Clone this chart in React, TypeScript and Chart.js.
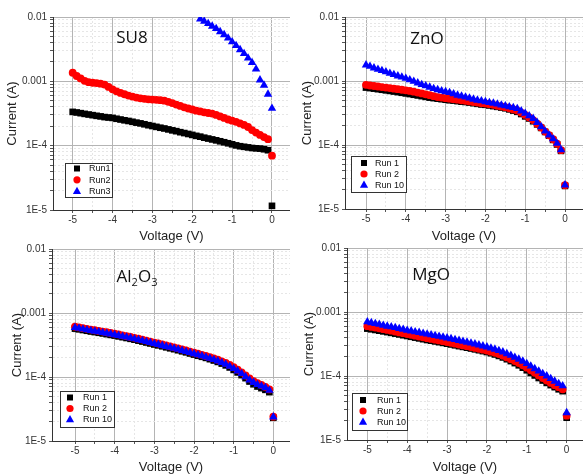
import React, { useEffect, useRef } from "react";
import { Chart, registerables } from "chart.js";

Chart.register(...registerables);

// ---------------- DATA ----------------
const voltage = [
  -5.0, -4.9, -4.8, -4.7, -4.6, -4.5, -4.4, -4.3, -4.2, -4.1,
  -4.0, -3.9, -3.8, -3.7, -3.6, -3.5, -3.4, -3.3, -3.2, -3.1,
  -3.0, -2.9, -2.8, -2.7, -2.6, -2.5, -2.4, -2.3, -2.2, -2.1,
  -2.0, -1.9, -1.8, -1.7, -1.6, -1.5, -1.4, -1.3, -1.2, -1.1,
  -1.0, -0.9, -0.8, -0.7, -0.6, -0.5, -0.4, -0.3, -0.2, -0.1, 0.0,
];
const su8Run3Voltage = [
  -1.8, -1.7, -1.6, -1.5, -1.4, -1.3, -1.2, -1.1, -1.0, -0.9,
  -0.8, -0.7, -0.6, -0.5, -0.4, -0.3, -0.2, -0.1, 0.0,
];

// currents, in units of 1E-4 A
const su8Run1 = [
  3.35, 3.28, 3.2, 3.12, 3.05, 2.98, 2.91, 2.85, 2.78, 2.74,
  2.7, 2.62, 2.55, 2.48, 2.42, 2.35, 2.28, 2.22, 2.15, 2.08,
  2.02, 1.96, 1.9, 1.85, 1.79, 1.73, 1.68, 1.62, 1.57, 1.52,
  1.47, 1.42, 1.38, 1.33, 1.29, 1.25, 1.21, 1.17, 1.13, 1.09,
  1.05, 1.01, 0.98, 0.96, 0.94, 0.92, 0.91, 0.9, 0.88, 0.85, 0.116,
];
const su8Run2 = [
  13.6, 12.1, 11.1, 10.2, 9.7, 9.5, 9.4, 9.2, 8.9, 8.2,
  7.5, 7.0, 6.6, 6.3, 6.0, 5.8, 5.6, 5.45, 5.35, 5.25,
  5.2, 5.15, 5.1, 5.0, 4.8, 4.6, 4.35, 4.15, 3.95, 3.78,
  3.65, 3.5, 3.4, 3.3, 3.22, 3.15, 3.0, 2.85, 2.7, 2.55,
  2.45, 2.35, 2.22, 2.1, 1.95, 1.75, 1.6, 1.47, 1.36, 1.26, 0.7,
];
const su8Run3 = [
  93, 86, 79, 72, 66, 59, 53, 47, 41, 36,
  31, 27, 23, 19.5, 15.5, 10.5, 8.7, 6.3, 3.8,
];

const znoRun1 = [
  7.9, 7.75, 7.6, 7.45, 7.3, 7.15, 7.0, 6.85, 6.7, 6.55,
  6.4, 6.25, 6.1, 5.95, 5.8, 5.65, 5.5, 5.4, 5.3, 5.2,
  5.1, 5.0, 4.95, 4.85, 4.75, 4.7, 4.6, 4.5, 4.4, 4.3,
  4.25, 4.15, 4.05, 3.95, 3.85, 3.75, 3.6, 3.45, 3.3, 3.05,
  2.8, 2.6, 2.35, 2.1, 1.85, 1.6, 1.4, 1.2, 1.02, 0.81, 0.23,
];
const znoRun2 = [
  8.7, 8.5, 8.35, 8.2, 8.05, 7.9, 7.75, 7.6, 7.45, 7.3,
  7.15, 7.0, 6.8, 6.6, 6.4, 6.2, 6.0, 5.8, 5.6, 5.5,
  5.4, 5.3, 5.2, 5.1, 5.0, 4.9, 4.8, 4.7, 4.6, 4.5,
  4.45, 4.35, 4.25, 4.1, 4.0, 3.9, 3.75, 3.6, 3.45, 3.2,
  2.95, 2.7, 2.45, 2.15, 1.88, 1.62, 1.42, 1.23, 1.05, 0.83, 0.235,
];
const znoRun10 = [
  17.8, 16.9, 16.0, 15.2, 14.5, 13.9, 13.2, 12.6, 12.0, 11.5,
  11.0, 10.4, 9.9, 9.3, 8.8, 8.4, 8.0, 7.6, 7.3, 7.0,
  6.8, 6.6, 6.3, 6.0, 5.8, 5.6, 5.4, 5.2, 5.0, 4.9,
  4.75, 4.6, 4.5, 4.35, 4.2, 4.1, 3.95, 3.85, 3.7, 3.4,
  3.13, 2.85, 2.6, 2.25, 1.93, 1.65, 1.43, 1.25, 1.06, 0.84, 0.237,
];

const al2o3Run1 = [
  5.7, 5.56, 5.42, 5.28, 5.14, 5.03, 4.91, 4.79, 4.67, 4.55,
  4.44, 4.31, 4.19, 4.07, 3.95, 3.83, 3.7, 3.58, 3.46, 3.34,
  3.22, 3.12, 3.02, 2.91, 2.81, 2.72, 2.62, 2.52, 2.43, 2.33,
  2.24, 2.15, 2.07, 1.99, 1.9, 1.81, 1.72, 1.62, 1.52, 1.41,
  1.29, 1.18, 1.07, 0.96, 0.85, 0.77, 0.71, 0.67, 0.63, 0.58, 0.23,
];
const al2o3Run2 = [
  6.1, 5.95, 5.8, 5.65, 5.5, 5.38, 5.25, 5.12, 5.0, 4.87,
  4.75, 4.62, 4.48, 4.35, 4.22, 4.1, 3.97, 3.84, 3.71, 3.58,
  3.45, 3.34, 3.23, 3.12, 3.01, 2.91, 2.81, 2.7, 2.6, 2.5,
  2.4, 2.31, 2.22, 2.13, 2.04, 1.95, 1.86, 1.76, 1.66, 1.54,
  1.42, 1.3, 1.18, 1.06, 0.95, 0.86, 0.8, 0.75, 0.7, 0.64, 0.24,
];
const al2o3Run10 = [
  5.9, 5.75, 5.6, 5.45, 5.3, 5.2, 5.07, 4.95, 4.82, 4.7,
  4.58, 4.45, 4.32, 4.2, 4.07, 3.95, 3.82, 3.7, 3.57, 3.45,
  3.32, 3.22, 3.11, 3.0, 2.9, 2.8, 2.7, 2.6, 2.5, 2.4,
  2.31, 2.22, 2.14, 2.05, 1.96, 1.87, 1.78, 1.68, 1.58, 1.47,
  1.35, 1.24, 1.13, 1.01, 0.9, 0.82, 0.76, 0.72, 0.68, 0.62, 0.237,
];

const mgoRun1 = [
  5.5, 5.37, 5.24, 5.11, 4.98, 4.85, 4.72, 4.59, 4.46, 4.34,
  4.22, 4.1, 3.98, 3.87, 3.76, 3.65, 3.56, 3.47, 3.38, 3.29,
  3.2, 3.11, 3.02, 2.93, 2.85, 2.77, 2.69, 2.61, 2.53, 2.45,
  2.37, 2.27, 2.17, 2.06, 1.95, 1.83, 1.71, 1.59, 1.47, 1.35,
  1.23, 1.12, 1.02, 0.93, 0.85, 0.78, 0.72, 0.67, 0.62, 0.58, 0.223,
];
const mgoRun2 = [
  6.0, 5.85, 5.7, 5.55, 5.4, 5.25, 5.1, 4.95, 4.8, 4.67,
  4.53, 4.4, 4.27, 4.14, 4.02, 3.9, 3.8, 3.7, 3.6, 3.5,
  3.4, 3.3, 3.2, 3.1, 3.0, 2.92, 2.83, 2.75, 2.66, 2.58,
  2.5, 2.4, 2.3, 2.2, 2.08, 1.95, 1.83, 1.71, 1.59, 1.47,
  1.35, 1.23, 1.12, 1.02, 0.93, 0.85, 0.78, 0.72, 0.67, 0.62, 0.24,
];
const mgoRun10 = [
  7.0, 6.8, 6.6, 6.4, 6.2, 6.0, 5.85, 5.7, 5.5, 5.35,
  5.18, 5.05, 4.9, 4.78, 4.65, 4.52, 4.4, 4.28, 4.16, 4.05,
  3.93, 3.82, 3.7, 3.59, 3.48, 3.37, 3.26, 3.16, 3.05, 2.95,
  2.84, 2.73, 2.62, 2.5, 2.37, 2.23, 2.1, 1.96, 1.83, 1.7,
  1.56, 1.43, 1.3, 1.19, 1.09, 1.0, 0.91, 0.83, 0.76, 0.7, 0.267,
];

const CURRENT_UNIT = 1e-4;

const xMajorTicks = [-5, -4, -3, -2, -1, 0];
const xTickLabels = ["-5", "-4", "-3", "-2", "-1", "0"];
const xMinorTicks = [-4.5, -3.5, -2.5, -1.5, -0.5];
const yMajorTicks = [1e-5, 1e-4, 1e-3, 1e-2];
const yTickLabels = ["1E-5", "1E-4", "0.001", "0.01"];
const yMinorMultipliers = [2, 3, 4, 5, 6, 7, 8, 9];

// ---------------- STYLE ----------------
const FONT = '"Liberation Sans", Arial, sans-serif';
const COLORS = { black: "#000000", red: "#ff0000", blue: "#0000ff" };
const RADIUS: Record<string, number> = { rect: 4.7, circle: 3.9, triangle: 4.9 };

type Style = "rect" | "circle" | "triangle";
type Series = { label: string; x: number[]; y: number[]; style: Style; color: string; order: number };

const allXTicks = [...xMajorTicks, ...xMinorTicks].sort((a, b) => a - b);
const allYTicks: number[] = [];
yMajorTicks.forEach((m, i) => {
  allYTicks.push(m);
  if (i < yMajorTicks.length - 1) yMinorMultipliers.forEach((k) => allYTicks.push(m * k));
});

const near = (a: number, b: number) => Math.abs(a - b) < 1e-9;
const isMajorX = (v: number) => xMajorTicks.some((t) => near(t, v));
const isMajorY = (v: number) => yMajorTicks.some((t) => Math.abs(Math.log10(t) - Math.log10(v)) < 1e-6);

function drawMarker(ctx: CanvasRenderingContext2D, style: Style, x: number, y: number, color: string) {
  ctx.fillStyle = color;
  ctx.beginPath();
  if (style === "rect") {
    ctx.rect(x - 3, y - 3, 6, 6);
  } else if (style === "circle") {
    ctx.arc(x, y, 3.6, 0, Math.PI * 2);
  } else {
    ctx.moveTo(x, y - 4.4);
    ctx.lineTo(x + 4.1, y + 2.8);
    ctx.lineTo(x - 4.1, y + 2.8);
    ctx.closePath();
  }
  ctx.fill();
}

type Legend = { x: number; y: number; w: number; h: number; row0: number; rowH: number; markerX: number; textX: number };

type PanelProps = {
  left: number; top: number; w: number; h: number;
  yAxisW: number; padTop: number; xAxisH: number;
  xMin: number; xMax: number;
  xTitlePad: number; yTitlePad: number;
  series: Series[];
  legend: Legend; // page coordinates
};

function Panel(p: PanelProps) {
  const ref = useRef<HTMLCanvasElement>(null);
  useEffect(() => {
    if (!ref.current) return;
    const datasets = p.series.map((s) => ({
      label: s.label,
      data: s.x.map((v, i) => ({ x: v, y: s.y[i] * CURRENT_UNIT })),
      pointStyle: s.style,
      pointRadius: RADIUS[s.style],
      pointBackgroundColor: s.color,
      pointBorderColor: s.color,
      pointBorderWidth: 0,
      backgroundColor: s.color,
      borderColor: s.color,
      showLine: false,
      order: s.order,
    }));
    const lg = p.legend;
    const legendPlugin = {
      id: "insideLegend",
      afterDatasetsDraw(chart: any) {
        const ctx: CanvasRenderingContext2D = chart.ctx;
        const bx = lg.x - p.left;
        const by = lg.y - p.top;
        ctx.save();
        ctx.fillStyle = "#ffffff";
        ctx.fillRect(bx, by, lg.w, lg.h);
        ctx.strokeStyle = "#333333";
        ctx.lineWidth = 1;
        ctx.strokeRect(bx + 0.5, by + 0.5, lg.w, lg.h);
        ctx.font = `9px ${FONT}`;
        ctx.textBaseline = "middle";
        ctx.textAlign = "left";
        p.series.forEach((s, i) => {
          const cy = lg.row0 - p.top + i * lg.rowH;
          drawMarker(ctx, s.style, lg.markerX - p.left, cy, s.color);
          ctx.fillStyle = "#111111";
          ctx.fillText(s.label, lg.textX - p.left, cy + 0.5);
        });
        ctx.restore();
      },
    };
    const chart = new Chart(ref.current, {
      type: "scatter",
      data: { datasets } as any,
      plugins: [legendPlugin],
      options: {
        animation: false,
        responsive: false,
        devicePixelRatio: 1,
        layout: { autoPadding: false, padding: { top: p.padTop, left: 0, right: 0, bottom: 0 } },
        plugins: { legend: { display: false }, tooltip: { enabled: false }, title: { display: false } },
        scales: {
          x: {
            type: "linear",
            min: p.xMin,
            max: p.xMax,
            afterBuildTicks: (s: any) => {
              s.ticks = allXTicks.map((v) => ({ value: v }));
            },
            afterFit: (s: any) => {
              s.height = p.xAxisH;
            },
            ticks: {
              autoSkip: false,
              maxRotation: 0,
              minRotation: 0,
              includeBounds: false,
              padding: 1,
              color: "#333333",
              font: { family: FONT, size: 10 },
              callback: (v: any) => {
                const i = xMajorTicks.findIndex((t) => near(t, Number(v)));
                return i >= 0 ? xTickLabels[i] : "";
              },
            },
            grid: {
              color: (c: any) => (c.tick && isMajorX(c.tick.value) ? "#b4b4b4" : "#e6e6e6"),
              lineWidth: 1,
              tickLength: 3,
              tickColor: "#555555",
            },
            border: {
              display: true,
              color: "#333333",
              width: 1,
              dash: (c: any) => (c.tick && !isMajorX(c.tick.value) ? [2, 2] : []),
            },
            title: {
              display: true,
              text: "Voltage (V)",
              color: "#222222",
              font: { family: FONT, size: 13 },
              padding: { top: 0, bottom: p.xTitlePad },
            },
          } as any,
          y: {
            type: "logarithmic",
            min: 1e-5,
            max: 1e-2,
            afterBuildTicks: (s: any) => {
              s.ticks = allYTicks.map((v) => ({ value: v }));
            },
            afterFit: (s: any) => {
              s.width = p.yAxisW;
            },
            ticks: {
              autoSkip: false,
              padding: 3,
              color: "#333333",
              font: { family: FONT, size: 10 },
              callback: (v: any) => {
                const i = yMajorTicks.findIndex((t) => Math.abs(Math.log10(t) - Math.log10(Number(v))) < 1e-6);
                return i >= 0 ? yTickLabels[i] : "";
              },
            },
            grid: {
              color: (c: any) => (c.tick && isMajorY(c.tick.value) ? "#b4b4b4" : "#e6e6e6"),
              lineWidth: 1,
              tickLength: 3,
              tickColor: "#555555",
            },
            border: {
              display: true,
              color: "#333333",
              width: 1,
              dash: (c: any) => (c.tick && !isMajorY(c.tick.value) ? [2, 2] : []),
            },
            title: {
              display: true,
              text: "Current (A)",
              color: "#222222",
              font: { family: FONT, size: 13 },
              padding: { top: p.yTitlePad, bottom: 0 },
            },
          } as any,
        },
      } as any,
    });
    return () => chart.destroy();
  }, []);
  return (
    <canvas
      ref={ref}
      width={p.w}
      height={p.h}
      style={{ position: "absolute", left: p.left, top: p.top, width: p.w, height: p.h }}
    />
  );
}

const su8Series: Series[] = [
  { label: "Run1", x: voltage, y: su8Run1, style: "rect", color: COLORS.black, order: 2 },
  { label: "Run2", x: voltage, y: su8Run2, style: "circle", color: COLORS.red, order: 1 },
  { label: "Run3", x: su8Run3Voltage, y: su8Run3, style: "triangle", color: COLORS.blue, order: 0 },
];
const znoSeries: Series[] = [
  { label: "Run 1", x: voltage, y: znoRun1, style: "rect", color: COLORS.black, order: 2 },
  { label: "Run 2", x: voltage, y: znoRun2, style: "circle", color: COLORS.red, order: 1 },
  { label: "Run 10", x: voltage, y: znoRun10, style: "triangle", color: COLORS.blue, order: 0 },
];
const al2o3Series: Series[] = [
  { label: "Run 1", x: voltage, y: al2o3Run1, style: "rect", color: COLORS.black, order: 2 },
  { label: "Run 2", x: voltage, y: al2o3Run2, style: "circle", color: COLORS.red, order: 1 },
  { label: "Run 10", x: voltage, y: al2o3Run10, style: "triangle", color: COLORS.blue, order: 0 },
];
const mgoSeries: Series[] = [
  { label: "Run 1", x: voltage, y: mgoRun1, style: "rect", color: COLORS.black, order: 2 },
  { label: "Run 2", x: voltage, y: mgoRun2, style: "circle", color: COLORS.red, order: 1 },
  { label: "Run 10", x: voltage, y: mgoRun10, style: "triangle", color: COLORS.blue, order: 0 },
];

const labelStyle = (x: number, y: number): React.CSSProperties => ({
  position: "absolute",
  left: x,
  top: y,
  transform: "translate(-50%, -50%)",
  fontFamily: '"Open Sans", "Noto Sans", sans-serif',
  fontSize: 17,
  lineHeight: "20px",
  color: "#111111",
  whiteSpace: "nowrap",
});
const subStyle: React.CSSProperties = { fontSize: 11, position: "relative", top: 4 };

export default function App() {
  return (
    <div
      style={{
        position: "absolute",
        left: 0,
        top: 0,
        width: 583,
        height: 474,
        overflow: "hidden",
        background: "#ffffff",
      }}
    >
      <Panel
        left={0} top={0} w={290} h={250}
        yAxisW={53} padTop={17} xAxisH={40}
        xMin={-5.494} xMax={0.452}
        xTitlePad={6} yTitlePad={5}
        series={su8Series}
        legend={{ x: 65, y: 163, w: 47, h: 34, row0: 168.5, rowH: 11.3, markerX: 77, textX: 89 }}
      />
      <Panel
        left={290} top={0} w={293} h={250}
        yAxisW={55} padTop={17} xAxisH={41}
        xMin={-5.528} xMax={0.452}
        xTitlePad={6} yTitlePad={10}
        series={znoSeries}
        legend={{ x: 351, y: 156, w: 55, h: 36, row0: 163, rowH: 11, markerX: 364, textX: 375 }}
      />
      <Panel
        left={0} top={237} w={290} h={245}
        yAxisW={52} padTop={12} xAxisH={41}
        xMin={-5.58} xMax={0.42}
        xTitlePad={7} yTitlePad={10}
        series={al2o3Series}
        legend={{ x: 60, y: 391, w: 54, h: 36, row0: 397.5, rowH: 11, markerX: 70, textX: 83 }}
      />
      <Panel
        left={290} top={237} w={293} h={245}
        yAxisW={57} padTop={11} xAxisH={42}
        xMin={-5.51} xMax={0.41}
        xTitlePad={7} yTitlePad={12}
        series={mgoSeries}
        legend={{ x: 352, y: 393, w: 55, h: 37, row0: 400, rowH: 11, markerX: 363, textX: 377 }}
      />
      <div style={labelStyle(132, 37)}>SU8</div>
      <div style={labelStyle(427, 38)}>ZnO</div>
      <div style={labelStyle(137, 277)}>
        Al<span style={subStyle}>2</span>O<span style={subStyle}>3</span>
      </div>
      <div style={labelStyle(431, 274)}>MgO</div>
    </div>
  );
}
